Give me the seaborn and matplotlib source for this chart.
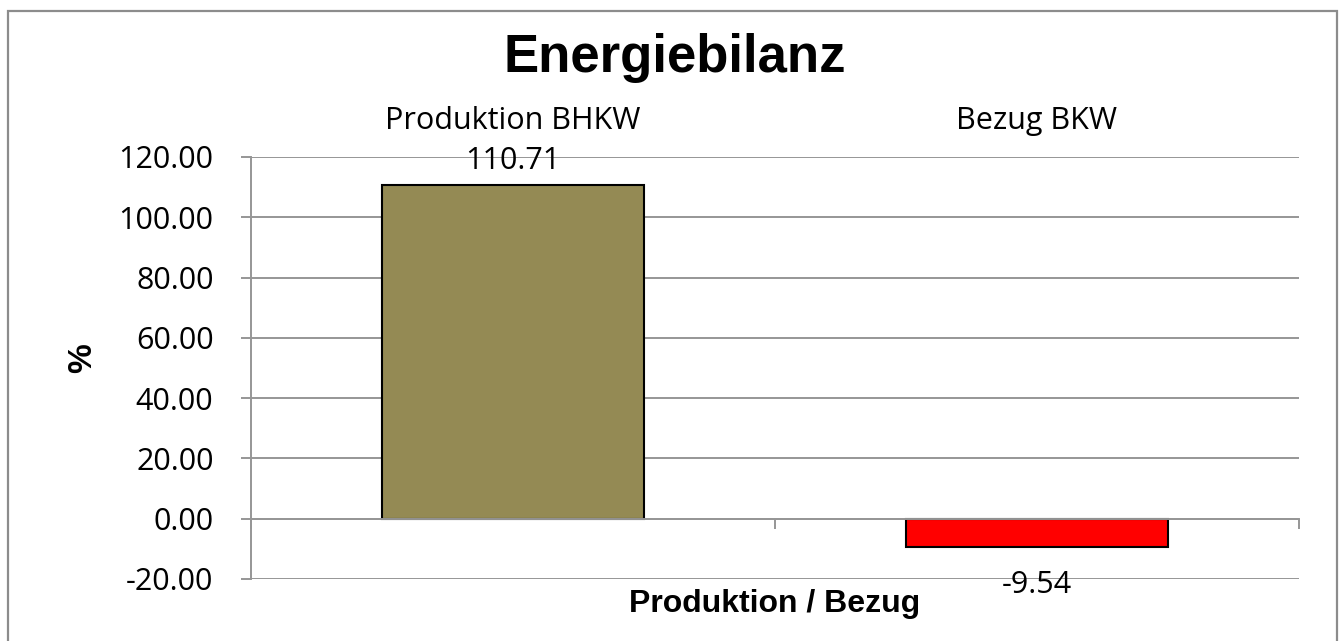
import matplotlib
matplotlib.use("Agg")
import matplotlib.pyplot as plt
import matplotlib.transforms as mtransforms
import seaborn as sns
import pandas as pd
from matplotlib.patches import Rectangle
from matplotlib.ticker import MultipleLocator, FixedLocator

categories = ["Produktion BHKW", "Bezug BKW"]
values = [110.71, -9.54]
bar_colors = ["#948A54", "#FF0000"]
title = "Energiebilanz"
xlabel = "Produktion / Bezug"
ylabel = "%"

sns.set_theme(style="white")
plt.rcParams["text.color"] = "black"
plt.rcParams["xtick.color"] = "black"
plt.rcParams["ytick.color"] = "black"
W, H = 1341, 641
fig = plt.figure(figsize=(W / 100, H / 100), dpi=100)

def fx(px):
    return px / W

def fy(py):
    return 1 - py / H

L, R, T, B = 251, 1299, 157, 579
ax = fig.add_axes([fx(L), fy(B), fx(R) - fx(L), fy(T) - fy(B)])

df = pd.DataFrame({"cat": categories, "val": values})
sns.barplot(data=df, x="cat", y="val", hue="cat", palette=bar_colors,
            saturation=1, width=0.5, edgecolor="black", linewidth=1.5, ax=ax,
            legend=False, zorder=3)

grid_c = "#969696"
ax.set_ylim(-20, 120)
ax.set_xlim(-0.5, 1.5)
ax.yaxis.set_major_locator(MultipleLocator(20))
ax.set_yticklabels([f"{v:.2f}" for v in ax.get_yticks()])
ax.yaxis.grid(True, color=grid_c, linewidth=1.4, zorder=0)
ax.xaxis.grid(False)

for s in ["top", "right"]:
    ax.spines[s].set_visible(False)
ax.spines["left"].set_color(grid_c)
ax.spines["left"].set_linewidth(1.4)
ax.spines["bottom"].set_position(("data", 0))
ax.spines["bottom"].set_color(grid_c)
ax.spines["bottom"].set_linewidth(1.4)
ax.spines["bottom"].set_zorder(4)

tick_font = "Open Sans"
fs = 22
ax.xaxis.set_minor_locator(FixedLocator([-0.5, 0.5, 1.5]))
ax.tick_params(axis="x", which="major", bottom=False, top=False, length=0,
               labelbottom=False, labeltop=False)
ax.tick_params(axis="x", which="minor", bottom=True, top=False, length=7,
               width=1.4, color=grid_c, direction="out")
ax.tick_params(axis="y", which="major", left=True, length=7, width=1.4,
               color=grid_c, pad=20, labelsize=fs, labelcolor="black")
for lab in ax.get_yticklabels():
    lab.set_fontfamily(tick_font)
ax.set_xlabel("")
ax.set_ylabel("")

# category labels above the plot
trans = mtransforms.blended_transform_factory(ax.transData, fig.transFigure)
for i, c in enumerate(categories):
    ax.text(i, fy(121), c, transform=trans, ha="center", va="center",
            fontsize=fs, fontfamily=tick_font, color="black", clip_on=False)

# value labels
for i, v in enumerate(values):
    off = 17 if v >= 0 else -27
    ax.annotate(f"{v:.2f}", xy=(i, v), xytext=(0, off), textcoords="offset points",
                ha="center", va="center", fontsize=fs, fontfamily=tick_font,
                color="black", zorder=5)

fig.text(fx(675), fy(58), title, ha="center", va="center", fontsize=38,
         fontweight="bold", fontfamily="Liberation Sans", color="black")
fig.text(fx(775), fy(604), xlabel, ha="center", va="center", fontsize=23,
         fontweight="bold", fontfamily="Liberation Sans", color="black")
fig.text(fx(83), fy(358), ylabel, ha="center", va="center", fontsize=24,
         fontweight="bold", fontfamily="Liberation Sans", rotation=90,
         color="black")

fig.patches.append(Rectangle((fx(8), fy(660)), fx(1337) - fx(8), fy(11) - fy(660),
                             transform=fig.transFigure, fill=False,
                             edgecolor="#8C8C8C", linewidth=1.6))

fig.savefig("out.png", dpi=100)
